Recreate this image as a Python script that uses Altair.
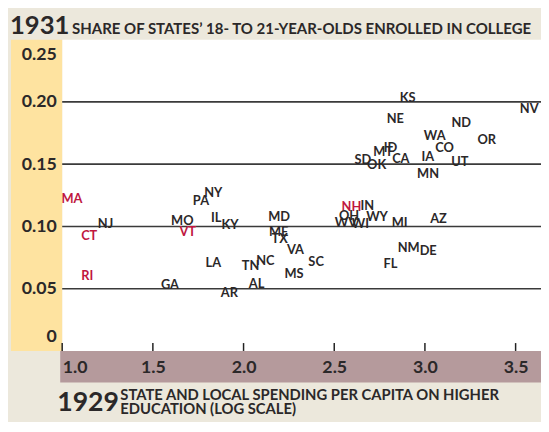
import altair as alt
import pandas as pd

# ---- data ----
STATES = ["MA", "CT", "RI", "NJ", "GA", "MO", "VT", "PA", "NY", "IL", "KY", "LA",
          "AR", "TN", "AL", "NC", "MD", "ME", "TX", "VA", "MS", "SC", "NH", "IN",
          "OH", "WV", "WI", "WY", "MI", "AZ", "NM", "DE", "FL", "KS", "NV", "NE",
          "ND", "WA", "OR", "CO", "ID", "MT", "CA", "IA", "UT", "SD", "OK", "MN"]
SPENDING_1929 = [1.054, 1.149, 1.138, 1.239, 1.594, 1.662, 1.692, 1.765, 1.833, 1.849, 1.925, 1.833,
                 1.922, 2.039, 2.072, 2.120, 2.196, 2.194, 2.199, 2.286, 2.278, 2.400, 2.595, 2.682,
                 2.582, 2.565, 2.644, 2.736, 2.861, 3.075, 2.910, 3.018, 2.810, 2.905, 3.575, 2.837,
                 3.200, 3.054, 3.341, 3.108, 2.810, 2.769, 2.867, 3.016, 3.193, 2.658, 2.734, 3.017]
ENROLLED_1931 = [0.1219, 0.0922, 0.0602, 0.1023, 0.0531, 0.1043, 0.0953, 0.1203, 0.1266, 0.1070, 0.1008, 0.0707,
                 0.0461, 0.0684, 0.0539, 0.0723, 0.1078, 0.0953, 0.0895, 0.0813, 0.0617, 0.0711, 0.1156, 0.1164,
                 0.1086, 0.1031, 0.1016, 0.1078, 0.1031, 0.1063, 0.0828, 0.0801, 0.0695, 0.2031, 0.1945, 0.1859,
                 0.1832, 0.1727, 0.1695, 0.1633, 0.1633, 0.1594, 0.1539, 0.1555, 0.1516, 0.1531, 0.1492, 0.1422]
HIGHLIGHTED = ["MA", "CT", "RI", "VT", "NH"]
X_TICKS = [1.0, 1.5, 2.0, 2.5, 3.0, 3.5]
Y_TICKS = [0, 0.05, 0.10, 0.15, 0.20, 0.25]
GRID = [0.05, 0.10, 0.15, 0.20]

TITLE_Y = "1931"
SUB_Y = "SHARE OF STATES\u2019 18- TO 21-YEAR-OLDS ENROLLED IN COLLEGE"
TITLE_X = "1929"
SUB_X = ["STATE AND LOCAL SPENDING PER CAPITA ON HIGHER", "EDUCATION (LOG SCALE)"]

# ---- style ----
FONT = "Lato"
INK = "#2b2829"
RED = "#c0173f"
BEIGE = "#ece8dc"
YELLOW = "#fee3a0"
MAUVE = "#b59a9c"
W, H = 486, 316

df = pd.DataFrame({
    "state": STATES,
    "x": SPENDING_1929,
    "y": ENROLLED_1931,
    "hl": [s in HIGHLIGHTED for s in STATES],
})

one = alt.Data(values=[{"k": 1}])

xscale = alt.Scale(domain=[1.0, 3.64], nice=False, zero=False)
yscale = alt.Scale(domain=[0, 0.25], nice=False)
X_AXIS = alt.Axis(values=X_TICKS, format=".1f", labelFlush=True, ticks=False, domain=False,
                  grid=False, labelPadding=8, labelFontSize=18, labelFont=FONT,
                  labelFontWeight="bold", labelColor=INK, title=None, zindex=2)
Y_AXIS = alt.Axis(values=Y_TICKS, labelExpr="datum.value == 0 ? '0' : format(datum.value, '.2f')",
                  labelFlush=True, labelFlushOffset=-6, ticks=False, domain=False, grid=False,
                  labelPadding=6, labelFontSize=18, labelFont=FONT, labelFontWeight="bold",
                  labelColor=INK, title=None, zindex=2)

yellow = alt.Chart(one).mark_rect(color=YELLOW).encode(
    x=alt.value(-52), x2=alt.value(0), y=alt.value(0), y2=alt.value(H))
mauve = alt.Chart(one).mark_rect(color=MAUVE).encode(
    x=alt.value(-2), x2=alt.value(W), y=alt.value(H), y2=alt.value(H + 32))

grid = alt.Chart(pd.DataFrame({"g": GRID})).mark_rule(color="#3a3a3a", strokeWidth=1.6).encode(
    y=alt.Y("g:Q", scale=yscale, axis=Y_AXIS, title=None))

ticks = alt.Chart(pd.DataFrame({"t": X_TICKS})).mark_rule(color="#222", strokeWidth=1.5).encode(
    x=alt.X("t:Q", scale=xscale, axis=X_AXIS, title=None), y=alt.value(H - 8), y2=alt.value(H))

labels = alt.Chart(df).mark_text(font=FONT, fontWeight="bold", fontSize=13,
                                 align="center", baseline="middle").encode(
    x=alt.X("x:Q", scale=xscale, axis=X_AXIS, title=None),
    y=alt.Y("y:Q", scale=yscale, axis=Y_AXIS, title=None),
    text="state:N",
    color=alt.condition("datum.hl", alt.value(RED), alt.value(INK)),
)

def txt(s, x, y, size, baseline="alphabetic"):
    return alt.Chart(one).mark_text(text=s, font=FONT, fontWeight="bold", fontSize=size,
                                    align="left", baseline=baseline, color=INK).encode(
        x=alt.value(x), y=alt.value(y))

t1 = txt(TITLE_Y, -53, -6, 26)
t2 = txt(SUB_Y, 10, -6, 15.2)
t3 = txt(TITLE_X, -5, 377, 27)
t4 = txt(SUB_X[0], 59, 366, 15)
t5 = txt(SUB_X[1], 59, 380, 15)

chart = alt.layer(yellow, mauve, grid, ticks, labels, t1, t2, t3, t4, t5).properties(
    width=W, height=H,
    autosize=alt.AutoSizeParams(type="none"),
    padding={"left": 55, "top": 29, "right": 0, "bottom": 69},
    background=BEIGE,
).configure_view(fill="white", strokeWidth=0)

chart.save("out.html", embed_options={"renderer": "svg", "actions": False})
